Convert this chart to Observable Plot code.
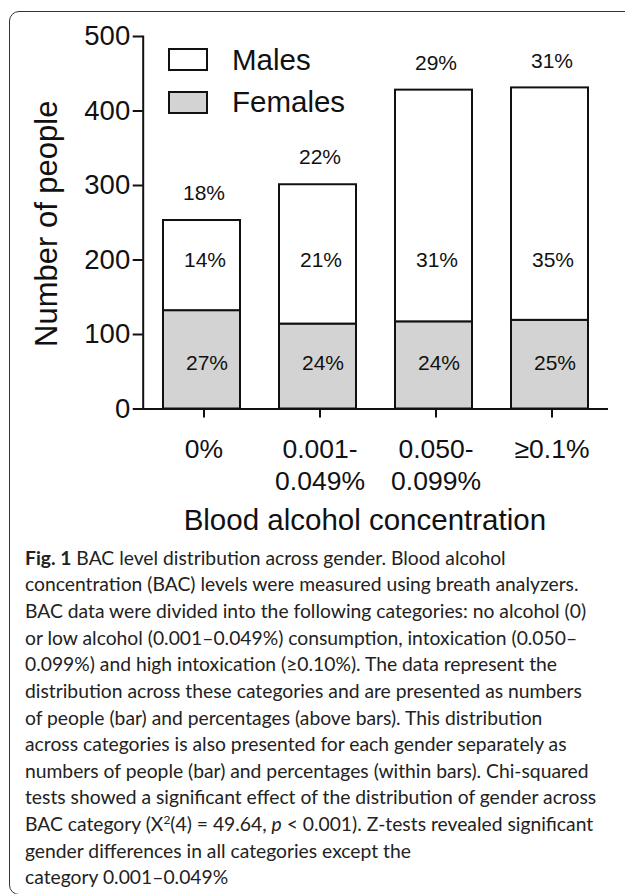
<!DOCTYPE html>
<html>
<head>
<meta charset="utf-8">
<script src="https://cdn.jsdelivr.net/npm/d3@7"></script>
<script src="https://cdn.jsdelivr.net/npm/@observablehq/plot@0.6"></script>
<style>
  html, body { margin: 0; padding: 0; background: #fff; overflow: hidden; }
  #page { position: relative; width: 625px; height: 894px; overflow: hidden; }
  #border { position: absolute; left: 9px; top: 11px; width: 720px; height: 884px;
            box-sizing: border-box; border: 1.5px solid #333; border-radius: 10px; }
  #chart { position: absolute; left: 0; top: 0; }
  #legend { position: absolute; left: 0; top: 0; font-family: 'Liberation Sans', Arial, sans-serif; color: #111; }
  .lg-box { position: absolute; left: 168px; width: 40px; height: 23px; box-sizing: border-box; border: 2px solid #111; }
  .lg-text { position: absolute; left: 232px; font-size: 29.5px; line-height: 34px; white-space: nowrap; }
  #caption { position: absolute; left: 25px; top: 544.7px; font-family: Lato, 'Open Sans', sans-serif;
             font-size: 19.3px; line-height: 26.64px; color: #222; }
  #caption div { white-space: nowrap; }
</style>
</head>
<body>
<div id="page">
  <div id="border"></div>
  <div id="chart"></div>
  <div id="legend"></div>
  <div id="caption"></div>
</div>
<script>
// ---- data ----
const categories = ["0%", "0.001-0.049%", "0.050-0.099%", "≥0.1%"];
const tickLabels = ["0%", "0.001-\n0.049%", "0.050-\n0.099%", "≥0.1%"];
const series = ["Females", "Males"];
const seriesColors = ["#d3d3d3", "#ffffff"];
const females = [132, 114, 117, 119];
const males = [121, 187, 311, 312];
const totalPct = ["18%", "22%", "29%", "31%"];
const malePct = ["14%", "21%", "31%", "35%"];
const femalePct = ["27%", "24%", "24%", "25%"];
const yTicks = [0, 100, 200, 300, 400, 500];
const yDomain = [0, 500];
const maleLabelLevel = 200;
const femaleLabelLevel = 61;
const xTitle = "Blood alcohol concentration";
const yTitle = "Number of people";

// ---- tables built from the arrays ----
const rows = [];
categories.forEach((c, i) => rows.push({cat: c, sex: "Females", n: females[i]}));
categories.forEach((c, i) => rows.push({cat: c, sex: "Males", n: males[i]}));
const totals = categories.map((c, i) => ({cat: c, total: females[i] + males[i], pct: totalPct[i]}));
const maleLabels = categories.map((c, i) => ({cat: c, y: maleLabelLevel, pct: malePct[i]}));
const femaleLabels = categories.map((c, i) => ({cat: c, y: femaleLabelLevel, pct: femalePct[i]}));
const labelOf = new Map(categories.map((c, i) => [c, tickLabels[i]]));

const plot = Plot.plot({
  width: 625,
  height: 545,
  marginTop: 36,
  marginBottom: 136.5,
  marginLeft: 142.7,
  marginRight: 17,
  style: {fontFamily: "'Liberation Sans', Arial, sans-serif", color: "#111", background: "transparent", overflow: "visible"},
  x: {domain: categories, paddingInner: 1/3, paddingOuter: 1/6, align: 0.5},
  y: {domain: yDomain},
  color: {domain: series, range: seriesColors},
  marks: [
    Plot.barY(rows, {x: "cat", y: "n", fill: "sex", stroke: "#111", strokeWidth: 2}),
    Plot.ruleY([0], {stroke: "#111", strokeWidth: 2}),
    Plot.frame({anchor: "left", stroke: "#111", strokeWidth: 2}),
    Plot.axisY({ticks: yTicks, tickSize: 10, tickPadding: 3, fontSize: 27.5, strokeWidth: 2, label: null, stroke: "#111"}),
    Plot.axisX({tickSize: 9, tickPadding: 17.5, fontSize: 26.5, lineHeight: 1.2, strokeWidth: 2, label: null, stroke: "#111",
                dx: 2, tickFormat: d => labelOf.get(d)}),
    Plot.text(totals, {x: "cat", y: "total", text: "pct", dy: -27, dx: 2, fontSize: 21, fill: "#111"}),
    Plot.text(maleLabels, {x: "cat", y: "y", text: "pct", dx: 3, fontSize: 21, fill: "#111"}),
    Plot.text(femaleLabels, {x: "cat", y: "y", text: "pct", dx: 5, fontSize: 21, fill: "#111"}),
    Plot.text([xTitle], {frameAnchor: "bottom", lineAnchor: "middle", textAnchor: "middle", dy: 111.5, dx: -11, fontSize: 29.5, fill: "#111"}),
    Plot.text([yTitle], {frameAnchor: "left", rotate: -90, textAnchor: "middle", lineAnchor: "middle", dx: -96.5, dy: 1, fontSize: 31, fill: "#111"})
  ]
});
document.getElementById("chart").appendChild(plot);

// ---- legend (Males on top, Females below) ----
const legend = document.getElementById("legend");
const legendOrder = ["Males", "Females"];
const legendTops = [48, 90.5];
legendOrder.forEach((s, k) => {
  const box = document.createElement("div");
  box.className = "lg-box";
  box.style.top = legendTops[k] + "px";
  box.style.background = seriesColors[series.indexOf(s)];
  legend.appendChild(box);
  const t = document.createElement("div");
  t.className = "lg-text";
  t.style.top = (legendTops[k] + 11.5 - 17) + "px";
  t.textContent = s;
  legend.appendChild(t);
});

// ---- caption ----
const captionLines = [
  '<b>Fig. 1</b> BAC level distribution across gender. Blood alcohol',
  'concentration (BAC) levels were measured using breath analyzers.',
  'BAC data were divided into the following categories: no alcohol (0)',
  'or low alcohol (0.001–0.049%) consumption, intoxication (0.050–',
  '0.099%) and high intoxication (≥0.10%). The data represent the',
  'distribution across these categories and are presented as numbers',
  'of people (bar) and percentages (above bars). This distribution',
  'across categories is also presented for each gender separately as',
  'numbers of people (bar) and percentages (within bars). Chi-squared',
  'tests showed a significant effect of the distribution of gender across',
  'BAC category (X<sup style="font-size:12px;line-height:0">2</sup>(4) = 49.64, <i>p</i> &lt; 0.001). Z-tests revealed significant',
  'gender differences in all categories except the',
  'category 0.001–0.049%'
];
document.getElementById("caption").innerHTML = captionLines.map(l => `<div>${l}</div>`).join("");
</script>
</body>
</html>
